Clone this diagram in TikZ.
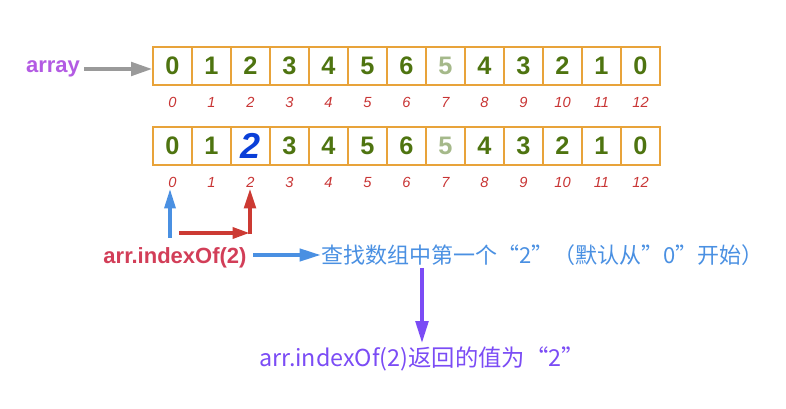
\documentclass[tikz,border=0pt]{standalone}
\usepackage{fontspec}
\setmainfont{Liberation Sans}
\newfontfamily\cjk{Noto Sans CJK SC}
\usetikzlibrary{arrows.meta}
\definecolor{cellgreen}{HTML}{4E7410}
\definecolor{paleg}{HTML}{A5B98A}
\definecolor{bigblue}{HTML}{0A3FD8}
\definecolor{cellborder}{HTML}{E8A33A}
\definecolor{idxred}{HTML}{C83535}
\definecolor{arrgray}{HTML}{9A9A9A}
\definecolor{arrpurple}{HTML}{B35BE3}
\definecolor{crimson}{HTML}{D23E58}
\definecolor{skyblue}{HTML}{4A90E2}
\definecolor{violet}{HTML}{7B4CF5}
\definecolor{redarrow}{HTML}{CC3A33}
\tikzset{
  cell/.style={draw=cellborder, line width=1pt, minimum width=29.25pt, minimum height=28.5pt,
    inner sep=0pt},
  digit/.style={text=cellgreen, inner sep=0pt, font=\fontsize{19}{20}\selectfont\bfseries},
  idx/.style={text=idxred, inner sep=0pt, anchor=base, font=\fontsize{11}{12}\selectfont\itshape},
  fat/.style={line width=3pt},
}
\begin{document}
\begin{tikzpicture}[x=0.75pt,y=-0.75pt]
\useasboundingbox (0,0) rectangle (786,409);
% cells and indices
\foreach \i in {0,...,12} {
  \node[cell] (a\i) at ({172.5+39*\i},66) {};
  \node[idx] (ia\i) at ({172.5+39*\i},108) {\i};
  \node[cell] (b\i) at ({172.5+39*\i},146) {};
  \node[idx] (ib\i) at ({172.5+39*\i},188) {\i};
}
% contents
\foreach \v [count=\i from 0] in {0,1,2,3,4,5,6,,4,3,2,1,0} {
  \node[digit] (da\i) at (a\i) {\v};
}
\foreach \v [count=\i from 0] in {0,1,,3,4,5,6,,4,3,2,1,0} {
  \node[digit] (db\i) at (b\i) {\v};
}
\node[digit, text=paleg] (pa) at (a7) {5};
\node[digit, text=paleg] (pb) at (b7) {5};
\node[text=bigblue, inner sep=0pt, font=\fontsize{27}{28}\selectfont\bfseries\itshape] (big) at (b2) {2};
% array label
\node[text=arrpurple, anchor=base, inner sep=1pt, font=\fontsize{16.5}{18}\selectfont\bfseries] (arr) at (53,73) {array};
\coordinate (ga) at (84,69);
\draw[arrgray, fat, -{Triangle[length=16pt,width=10pt]}] (ga) -- (ga -| a0.west);
% indexOf
\node[text=crimson, font=\fontsize{16.5}{18}\selectfont\bfseries] (iof) at (175,258) {arr.indexOf(2)};
\node[text=skyblue, font=\cjk\fontsize{16.5}{18}\selectfont, anchor=west, inner sep=0pt] (find) at (321,255) {查找数组中第一个“2”（默认从”0”开始）};
\node[text=violet, font=\cjk\fontsize{17.5}{18}\selectfont, anchor=west, inner sep=0pt] (ret) at (259,359) {arr.indexOf(2)返回的值为“2”};
\coordinate (bu) at (170,238);
\draw[skyblue, fat, -{Triangle[length=15pt,width=8pt]}] (bu) -- (bu |- ib0.south);
\coordinate (rs) at (179,233);
\coordinate (rm) at (250,233);
\coordinate (rv) at (250,234.5);
\draw[redarrow, fat, -{Triangle[length=13pt,width=8pt]}] (rs) -- (rm);
\draw[redarrow, fat, -{Triangle[length=15pt,width=8.5pt]}] (rv) -- (rv |- ib2.south);
\coordinate (ba) at (253,255);
\draw[skyblue, fat, -{Triangle[length=16pt,width=9pt]}] (ba) -- (ba -| find.west);
\coordinate (pd) at (422,268);
\draw[violet, line width=3.5pt, -{Triangle[length=17pt,width=9pt]}] (pd) -- ([yshift=2pt]pd |- ret.north);
\end{tikzpicture}
\end{document}
